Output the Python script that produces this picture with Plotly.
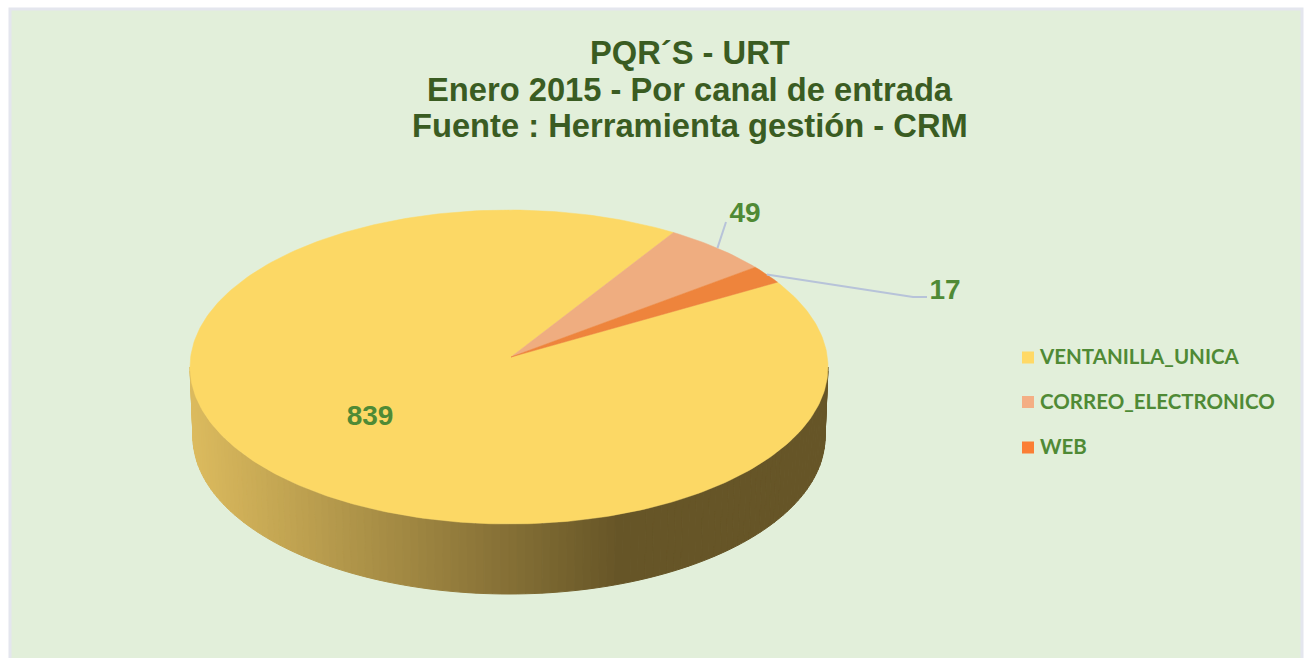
import math
import plotly.graph_objects as go

# --- data ---
categories = ["VENTANILLA_UNICA", "CORREO_ELECTRONICO", "WEB"]
values = [839, 49, 17]
title_lines = ["PQR´S - URT", "Enero 2015 - Por canal de entrada", "Fuente : Herramienta gestión - CRM"]

# --- style ---
slice_colors = ["#FCD865", "#EFAD80", "#EE843C"]
legend_colors = ["#FFD966", "#F4AE84", "#FB7E35"]
green = "#4F8A35"
title_green = "#3A5C22"
leader = "#B7C3D9"
panel = "#E2EFDA"

W, H = 1304, 658
CX, CY, A, B = 509, 367, 319, 157
APEX = (511, 357)
DEPTH = 70
A_BOTTOM = 316
FIRST_ANGLE = 32.7  # degrees on the ellipse where the first slice starts, running clockwise


def rim(t_deg, a=A, cy=CY):
    t = math.radians(t_deg)
    return CX + a * math.cos(t), cy - B * math.sin(t)


def side_color(x):
    left, right = (220, 187, 94), (102, 85, 39)
    f = min(1.0, max(0.0, (x - 190) / (621 - 190)))
    return "rgb(%d,%d,%d)" % tuple(round(l + (r - l) * f) for l, r in zip(left, right))


fig = go.Figure()

# side wall of the disc, as thin vertical strips
N = 120
for i in range(N):
    t0 = 180 + 180 * i / N
    t1 = 180 + 180 * (i + 1) / N
    p0, p1 = rim(t0), rim(t1)
    q0, q1 = rim(t0, A_BOTTOM, CY + DEPTH), rim(t1, A_BOTTOM, CY + DEPTH)
    c = side_color((p0[0] + p1[0]) / 2)
    fig.add_trace(go.Scatter(
        x=[p0[0], p1[0], q1[0], q0[0], p0[0]], y=[p0[1], p1[1], q1[1], q0[1], p0[1]],
        mode="lines", fill="toself", fillcolor=c, line=dict(color=c, width=1),
        hoverinfo="skip", showlegend=False))

# top face: slices run clockwise from FIRST_ANGLE
total = sum(values)
angle = FIRST_ANGLE
mids = []
for name, v, col in zip(categories, values, slice_colors):
    sweep = 360 * v / total
    n = max(4, int(sweep))
    pts = [rim(angle - sweep * k / n) for k in range(n + 1)]
    xs = [APEX[0]] + [p[0] for p in pts] + [APEX[0]]
    ys = [APEX[1]] + [p[1] for p in pts] + [APEX[1]]
    fig.add_trace(go.Scatter(x=xs, y=ys, mode="lines", fill="toself", fillcolor=col,
                             line=dict(color=col, width=0.5), name=name,
                             hoverinfo="name", showlegend=False))
    mids.append(angle - sweep / 2)
    angle -= sweep

# leader lines from each small slice's mid-angle to its label
elbows = {1: [(726, 222)], 2: [(913, 297), (927, 297)]}
for i, pts in elbows.items():
    s = rim(mids[i])
    fig.add_trace(go.Scatter(x=[s[0]] + [p[0] for p in pts], y=[s[1]] + [p[1] for p in pts],
                             mode="lines", line=dict(color=leader, width=2),
                             hoverinfo="skip", showlegend=False))

# value labels
label_pos = [(370, 418), (745, 215), (945, 292)]
fig.add_trace(go.Scatter(
    x=[p[0] for p in label_pos], y=[p[1] for p in label_pos],
    text=[str(v) for v in values], mode="text", textposition="middle center",
    textfont=dict(family="Liberation Sans", size=28, color=green, weight="bold"),
    hoverinfo="skip", showlegend=False))

# legend
legend_y = [357.5, 402, 447.5]
fig.add_trace(go.Scatter(
    x=[1028] * 3, y=legend_y, mode="markers",
    marker=dict(symbol="square", size=12, color=legend_colors),
    hoverinfo="skip", showlegend=False))
fig.add_trace(go.Scatter(
    x=[1040] * 3, y=[y + 1.5 for y in legend_y], text=categories,
    mode="text", textposition="middle right",
    textfont=dict(family="Lato", size=20.5, color=green, weight="bold"),
    hoverinfo="skip", showlegend=False))

title_y = [52, 89, 125]
annotations = [
    dict(text=t, x=690, y=y, xref="x", yref="y", xanchor="center", yanchor="middle", showarrow=False,
         font=dict(family="Liberation Sans", size=32.7, color=title_green, weight="bold"))
    for t, y in zip(title_lines, title_y)
]

fig.update_layout(
    width=W, height=H, margin=dict(l=0, r=0, t=0, b=0),
    paper_bgcolor="#FFFFFF", plot_bgcolor="#FFFFFF", showlegend=False,
    xaxis=dict(range=[0, W], visible=False, fixedrange=True),
    yaxis=dict(range=[H, 0], visible=False, fixedrange=True),
    annotations=annotations,
    shapes=[dict(type="rect", layer="below", xref="x", yref="y", x0=10, y0=9, x1=1302, y1=H + 10,
                 fillcolor=panel, line=dict(color="#E4E6EE", width=3))],
)

fig.write_html("out.html", post_script="document.body.style.margin='0';",
               config={"displayModeBar": False})
